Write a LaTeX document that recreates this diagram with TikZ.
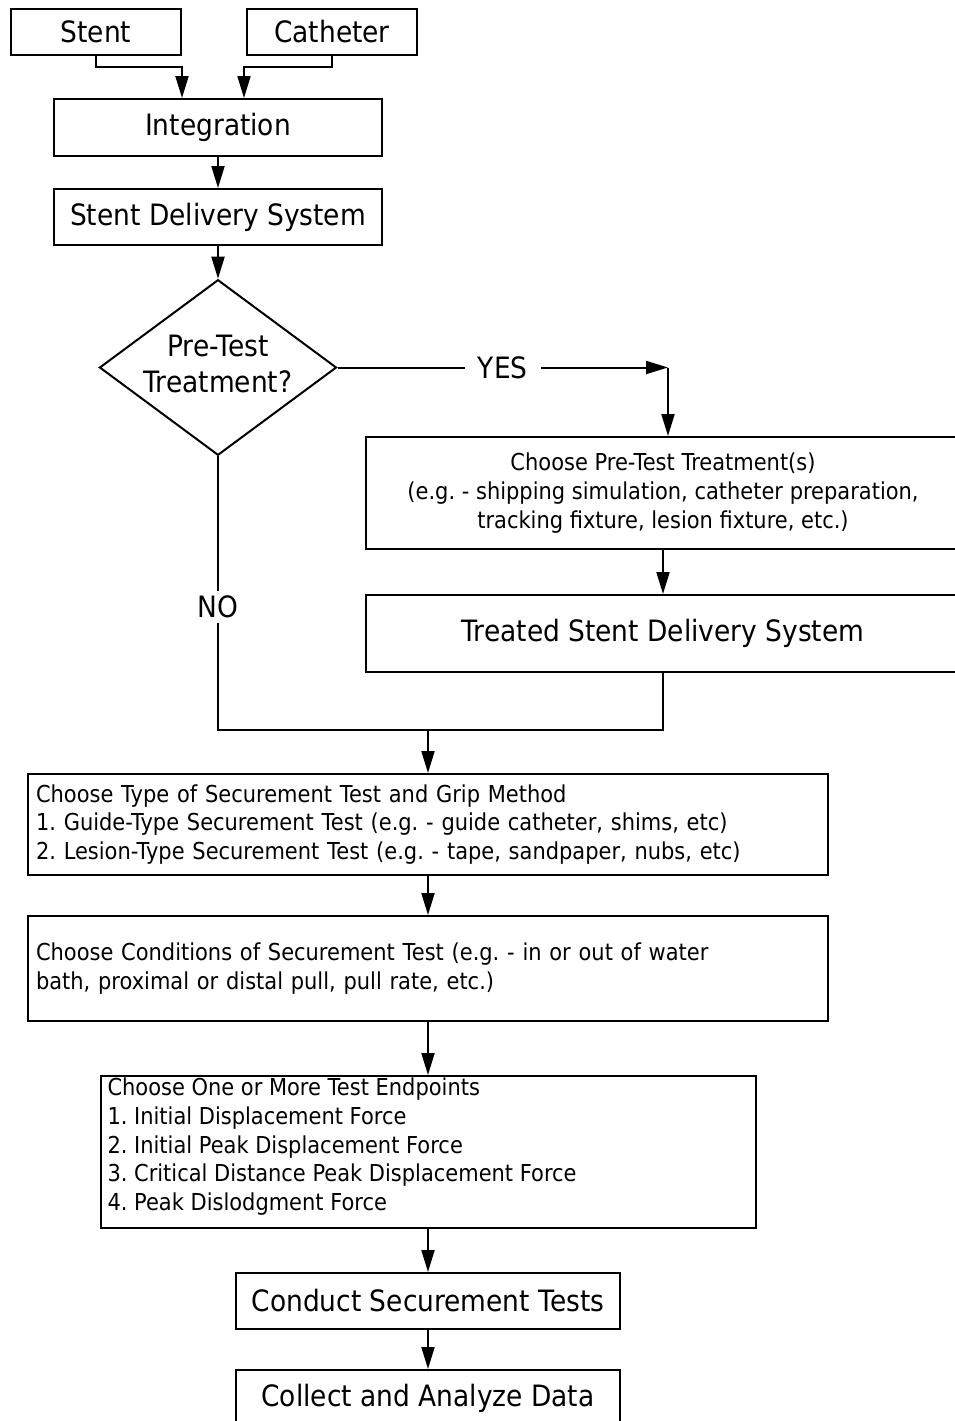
\documentclass[tikz,border=0pt]{standalone}
\usepackage{fontspec}
\setmainfont{DejaVu Sans}[FakeStretch=0.9]
\frenchspacing
\usetikzlibrary{shapes.geometric, arrows.meta, positioning, calc}
\tikzset{
  block/.style={rectangle, draw, line width=2pt, align=center, inner sep=0pt,
                font=\fontsize{29.4}{36}\selectfont},
  listbox/.style={rectangle, draw, line width=2pt, align=left, inner sep=0pt,
                  font=\fontsize{23.3}{28.7}\selectfont},
  decision/.style={diamond, draw, line width=2pt, align=center, inner sep=0pt,
                   aspect=1.35, minimum width=236pt, minimum height=175pt,
                   text depth=8pt, font=\fontsize{29.4}{36}\selectfont},
  arrow/.style={-{Triangle[length=22pt, width=13pt]}, line width=2pt},
  conn/.style={line width=2pt},
  tag/.style={fill=white, inner xsep=13pt, inner ysep=5pt,
              font=\fontsize{29.4}{36}\selectfont},
}
\begin{document}
\begin{tikzpicture}[x=1pt, y=1pt]
        \useasboundingbox (0,0) rectangle (955,-1421);
        \clip (0,0) rectangle (955,-1421);

        \node[block, minimum width=170pt, minimum height=46pt] (stent) at (96,-32) {Stent};
        \node[block, minimum width=170pt, minimum height=46pt] (cath) at (332,-32) {Catheter};
        \node[block, minimum width=328pt, minimum height=57pt] (integ) at (218,-127.5) {Integration};
        \node[block, minimum width=328pt, minimum height=56pt, below=31pt of integ] (sds) {Stent Delivery System};
        \node[decision] (pretest) at (218,-367.5) {Pre-Test\\Treatment?};

        \node[block, minimum width=594pt, minimum height=112pt,
              font=\fontsize{23.3}{28.7}\selectfont] (treat) at (663,-493)
              {Choose Pre-Test Treatment(s)\\(e.g. - shipping simulation, catheter preparation,\\tracking fixture, lesion fixture, etc.)};
        \node[block, minimum width=594pt, minimum height=77pt, below=44pt of treat] (tsds) {Treated Stent Delivery System};

        \node[listbox, minimum width=800pt, minimum height=101pt, text width=784pt] (grip) at (428,-824.5)
              {Choose Type of Securement Test and Grip Method\\1. Guide-Type Securement Test (e.g. - guide catheter, shims, etc)\\2. Lesion-Type Securement Test (e.g. - tape, sandpaper, nubs, etc)};
        \node[listbox, minimum width=800pt, minimum height=105pt, text width=784pt, below=39pt of grip] (cond)
              {Choose Conditions of Securement Test (e.g. - in or out of water\\bath, proximal or distal pull, pull rate, etc.)};
        \node[listbox, minimum width=655pt, minimum height=152pt, below=53pt of cond] (endp)
              {\parbox[c][148pt][t]{641pt}{Choose One or More Test Endpoints\\1. Initial Displacement Force\\2. Initial Peak Displacement Force\\3. Critical Distance Peak Displacement Force\\4. Peak Dislodgment Force}};
        \node[block, minimum width=384pt, minimum height=56pt, below=43pt of endp] (conduct) {Conduct Securement Tests};
        \node[block, minimum width=384pt, minimum height=56pt, below=39pt of conduct] (collect) {Collect and Analyze Data};

        \draw[arrow] (stent.south) -- ++(0,-11) -| ([xshift=-36pt]integ.north);
        \draw[arrow] (cath.south) -- ++(0,-11) -| ([xshift=26pt]integ.north);
        \draw[arrow] (integ) -- (sds);
        \draw[arrow] (sds) -- (pretest);

        \coordinate (yes) at ($(treat.north |- pretest.east)+(5,0)$);
        \draw[arrow] (pretest.east) -- node[tag]{YES} (yes);
        \draw[arrow] (yes) -- ([xshift=5pt]treat.north);
        \draw[arrow] (treat) -- (tsds);

        \coordinate (join) at (428,-730);
        \draw[conn] (pretest.south) -- node[tag, pos=0.55]{NO} (pretest.south |- join) -- (join);
        \draw[conn] (tsds.south) |- (join);
        \draw[arrow] (join) -- (grip.north);
        \draw[arrow] (grip) -- (cond);
        \draw[arrow] (cond) -- (endp);
        \draw[arrow] (endp) -- (conduct);
        \draw[arrow] (conduct) -- (collect);
      \end{tikzpicture}
\end{document}
